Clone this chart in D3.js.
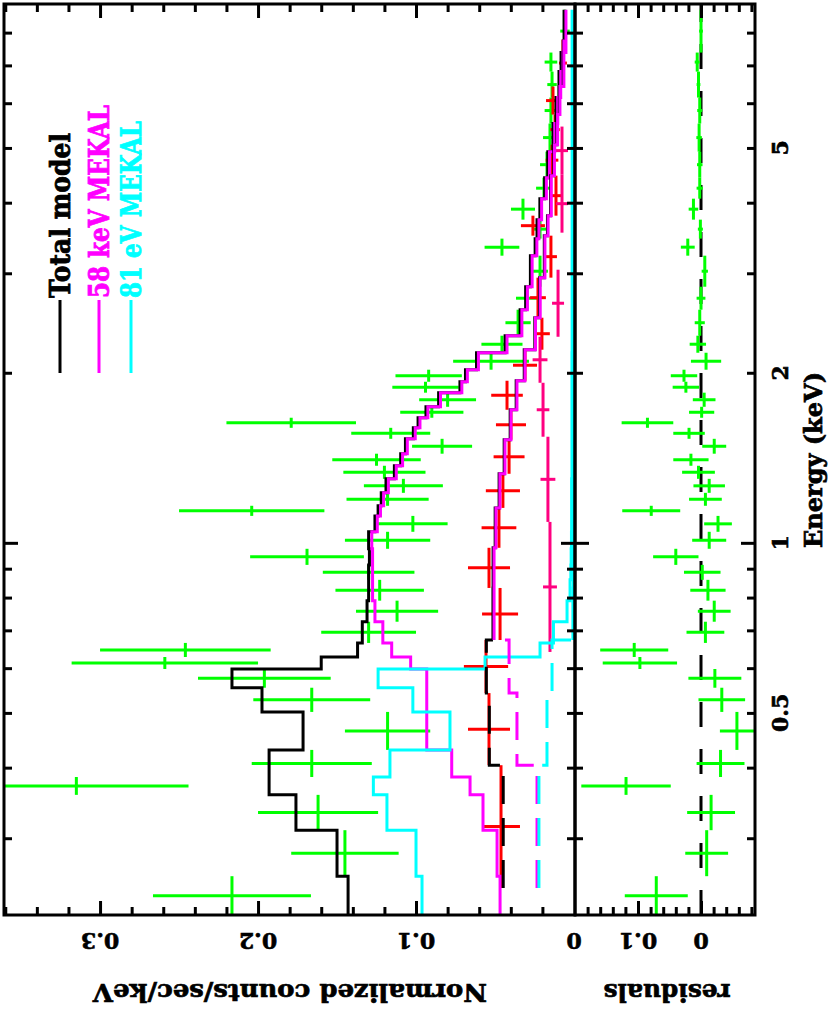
<!DOCTYPE html>
<html>
<head>
<meta charset="utf-8">
<script src="https://cdnjs.cloudflare.com/ajax/libs/d3/7.8.5/d3.min.js"></script>
<style>
  body { margin: 0; background: #fff; }
  text { font-family: "DejaVu Serif", serif; font-weight: bold; fill: #000; }
</style>
</head>
<body>
<svg id="chart"></svg>
<script>
// energy bin edges (keV) and values
var greenEdges = [0.219, 0.257, 0.310, 0.358, 0.385, 0.430, 0.502, 0.554, 0.598, 0.628, 0.665,
  0.725, 0.790, 0.860, 0.914, 0.976, 1.046, 1.116, 1.163, 1.226, 1.298, 1.369, 1.438, 1.528,
  1.598, 1.665, 1.741, 1.844, 1.928, 2.025, 2.170, 2.326, 2.586, 2.840, 3.223, 3.455, 3.733,
  4.066, 4.429, 4.925, 5.523, 6.140, 6.825, 7.376, 8.786];
var greenRate = [0.2165, 0.145, 0.162, 0.315, 0.166, 0.118, 0.166, 0.196, 0.259, 0.246, 0.130,
  0.112, 0.123, 0.130, 0.169, 0.118, 0.102, 0.204, 0.118, 0.108, 0.120, 0.125, 0.0835, 0.116,
  0.179, 0.090, 0.080, 0.094, 0.092, 0.0525, 0.0456, 0.0354, 0.0297, 0.0215, 0.0456, 0.0215,
  0.0323, 0.019, 0.0171, 0.0152, 0.0146, 0.0139, 0.0146, 0.0057];
var greenErr = [0.050, 0.034, 0.038, 0.071, 0.038, 0.027, 0.037, 0.042, 0.059, 0.054, 0.030,
  0.026, 0.028, 0.029, 0.036, 0.027, 0.022, 0.046, 0.026, 0.025, 0.026, 0.028, 0.019, 0.025,
  0.041, 0.020, 0.018, 0.021, 0.021, 0.024, 0.013, 0.008, 0.007, 0.005, 0.011, 0.004,
  0.0076, 0.005, 0.0044, 0.0044, 0.004, 0.003, 0.004, 0.003];
var greenResid = [0.071, -0.009, -0.016, 0.119, -0.031, -0.057, -0.033, -0.022, 0.097, 0.106, -0.007,
  -0.021, -0.011, -0.002, 0.040, -0.013, -0.027, 0.079, -0.007, -0.013, 0.004, 0.016, -0.021, 0.019,
  0.085, -0.001, -0.005, 0.024, 0.027, -0.008, 0.005, 0.002, 0.000, -0.006, 0.021, 0.001,
  0.012, 0.002, 0.002, 0.003, 0.002, 0.004, 0.006, 0.000];
var greenTotal = [0.143, 0.150, 0.176, 0.193, 0.193, 0.1715, 0.1975, 0.2165, 0.160, 0.137, 0.134,
  0.131, 0.130, 0.130, 0.1295, 0.130, 0.126, 0.124, 0.122, 0.119, 0.1137, 0.1097, 0.1067, 0.1017,
  0.0987, 0.0937, 0.0857, 0.0722, 0.0687, 0.0617, 0.0436, 0.0341, 0.0306, 0.0276, 0.0246, 0.0234,
  0.0216, 0.0186, 0.0166, 0.0133, 0.0114, 0.0095, 0.0082, 0.0063];
var green58keV = [0.0468, 0.0487, 0.0576, 0.0658, 0.0774, 0.0932, 0.0932, 0.0932, 0.1034, 0.1154, 0.121,
  0.126, 0.1275, 0.1275, 0.1275, 0.128, 0.1245, 0.1225, 0.1205, 0.1175, 0.1125, 0.1085, 0.1055, 0.1005,
  0.0975, 0.0925, 0.0845, 0.071, 0.0675, 0.0605, 0.0424, 0.033, 0.0295, 0.0265, 0.0235, 0.0222,
  0.0205, 0.0175, 0.0155, 0.0122, 0.0103, 0.0084, 0.007, 0.0051];
var green81eV = [0.0962, 0.100, 0.1184, 0.127, 0.1165, 0.0785, 0.102, 0.124, 0.0563, 0.0215, 0.013,
  0.0044, 0.0025, 0.002, 0.0018, 0.0016, 0.0015, 0.0015, 0.0015, 0.0015, 0.0013, 0.0013, 0.0013, 0.0013,
  0.0013, 0.0013, 0.0013, 0.0013, 0.0013, 0.0013, 0.0012, 0.0012, 0.0012, 0.0012, 0.0012, 0.0012,
  0.0012, 0.0012, 0.0012, 0.0012, 0.0012, 0.0012, 0.0012, 0.0012];

var redEdges = [0.245, 0.404, 0.542, 0.673, 0.832, 0.980, 1.153, 1.325, 1.522, 1.720, 1.936,
  2.197, 2.503, 2.947, 3.497, 3.794, 4.466, 5.067, 5.728, 6.421, 7.776];
var redRate = [0.0462, 0.0538, 0.0557, 0.0468, 0.0538, 0.0475, 0.045, 0.0411, 0.0399, 0.0424,
  0.031, 0.0203, 0.0228, 0.0146, 0.026, 0.0114, 0.0139, 0.012, 0.0133, 0.007];
var redErr = [0.012, 0.0133, 0.014, 0.0114, 0.0133, 0.011, 0.0108, 0.0098, 0.0095, 0.010,
  0.0076, 0.005, 0.005, 0.0038, 0.0076, 0.0038, 0.004, 0.003, 0.0044, 0.0025];
var redTotal = [0.0448, 0.0536, 0.0555, 0.0513, 0.0512, 0.0499, 0.0474, 0.0442, 0.0404, 0.0366,
  0.0315, 0.0248, 0.0218, 0.0188, 0.0168, 0.0148, 0.0128, 0.0108, 0.0093, 0.0068];
var red58keV = [0.0234, 0.0361, 0.0411, 0.0506, 0.0506, 0.0494, 0.0469, 0.0437, 0.0399, 0.0361,
  0.031, 0.0244, 0.0214, 0.0184, 0.0164, 0.0144, 0.0124, 0.0104, 0.0089, 0.0064];
var red81eV = [0.0222, 0.0171, 0.0139, 0.0007, 0.0005, 0.0005, 0.0005, 0.0005, 0.0005, 0.0005,
  0.0005, 0.0005, 0.0005, 0.0005, 0.0005, 0.0005, 0.0005, 0.0005, 0.0005, 0.0005];

var pinkLo = [0.641, 1.089, 1.541, 1.920, 2.316, 3.540, 4.484];
var pinkHi = [1.089, 1.541, 1.920, 2.316, 3.044, 4.484, 5.455];
var pinkRate = [0.0152, 0.0165, 0.0196, 0.0215, 0.0101, 0.0076, 0.0076];
var pinkErr = [0.0044, 0.0047, 0.004, 0.0047, 0.0038, 0.0038, 0.0038];

var energyLabels = [0.5, 1, 2, 5];
var energyMinor = [0.3, 0.4, 0.5, 0.6, 0.7, 0.8, 0.9, 2, 3, 4, 5, 6, 7, 8];
var energyMajor = [1];
var countLabels = [0, 0.1, 0.2, 0.3];
var residLabels = [0, 0.1];
var legendNames = ["Total model", "58 keV MEKAL", "81 eV MEKAL"];
var legendColors = ["#000000", "#ff00ff", "#00ffff"];

var width = 830,
    height = 1009;

var svg = d3.select("#chart")
    .attr("width", width)
    .attr("height", height);

svg.append("rect").attr("width", width).attr("height", height).attr("fill", "#fff");

// plot is drawn turned on its side: energy runs upward, counts run leftward
var yE = d3.scaleLog().domain([0.2194, 8.99]).range([915, 4]);
var xC = d3.scaleLinear().domain([0, 0.3608]).range([574, 4]);
var xR = d3.scaleLinear().domain([0.2, -0.0857]).range([575, 755]);

var defs = svg.append("defs");
defs.append("clipPath").attr("id", "clipMain")
    .append("rect").attr("x", 4).attr("y", 4).attr("width", 571).attr("height", 911);
defs.append("clipPath").attr("id", "clipRes")
    .append("rect").attr("x", 575).attr("y", 4).attr("width", 180).attr("height", 911);

var main = svg.append("g").attr("clip-path", "url(#clipMain)");
var res = svg.append("g").attr("clip-path", "url(#clipRes)");

function crosses(g, lo, hi, val, err, x, color) {
    var idx = d3.range(val.length);
    g.selectAll(null).data(idx).join("line")
        .attr("x1", function(i) { return x(val[i]); })
        .attr("x2", function(i) { return x(val[i]); })
        .attr("y1", function(i) { return yE(lo[i]); })
        .attr("y2", function(i) { return yE(hi[i]); })
        .attr("stroke", color).attr("stroke-width", 3);
    g.selectAll(null).data(idx).join("line")
        .attr("x1", function(i) { return x(val[i] - err[i]); })
        .attr("x2", function(i) { return x(val[i] + err[i]); })
        .attr("y1", function(i) { return yE(Math.sqrt(lo[i] * hi[i])); })
        .attr("y2", function(i) { return yE(Math.sqrt(lo[i] * hi[i])); })
        .attr("stroke", color).attr("stroke-width", 3);
}

function stepPoints(edges, vals, from, to) {
    var pts = [];
    for (var i = from; i < to; i++) pts.push([vals[i], edges[i]]);
    if (to === vals.length) pts.push([vals[to - 1], edges[to]]);
    else pts.push([vals[to], edges[to]]);
    return pts;
}

var step = d3.line()
    .x(function(d) { return xC(d[0]); })
    .y(function(d) { return yE(d[1]); })
    .curve(d3.curveStepBefore);

function stepLine(g, edges, vals, color, from, to, dash) {
    g.append("path")
        .attr("d", step(stepPoints(edges, vals, from, to)))
        .attr("fill", "none")
        .attr("stroke", color)
        .attr("stroke-width", 3)
        .attr("stroke-dasharray", dash || null);
}

var greenLo = greenEdges.slice(0, -1), greenHi = greenEdges.slice(1);
var redLo = redEdges.slice(0, -1), redHi = redEdges.slice(1);

// data
crosses(main, greenLo, greenHi, greenRate, greenErr, xC, "#00ff00");
crosses(main, redLo, redHi, redRate, redErr, xC, "#ff0000");
crosses(main, pinkLo, pinkHi, pinkRate, pinkErr, xC, "#ff0080");

// models for the green spectrum
stepLine(main, greenEdges, greenTotal, "#000000", 0, greenTotal.length);
stepLine(main, greenEdges, green58keV, "#ff00ff", 0, green58keV.length);
stepLine(main, greenEdges, green81eV, "#00ffff", 0, green81eV.length);

// models for the red spectrum (dashed below 0.67 keV)
stepLine(main, redEdges, redTotal, "#000000", 0, 3, "28,14");
stepLine(main, redEdges, redTotal, "#000000", 3, redTotal.length);
stepLine(main, redEdges, red58keV, "#ff00ff", 0, 3, "28,14");
stepLine(main, redEdges, red58keV, "#ff00ff", 3, red58keV.length);
stepLine(main, redEdges, red81eV, "#00ffff", 0, 3, "28,14");
stepLine(main, redEdges, red81eV, "#00ffff", 3, red81eV.length);

// residual panel
res.append("line")
    .attr("x1", xR(0)).attr("x2", xR(0))
    .attr("y1", yE.range()[0]).attr("y2", yE.range()[1])
    .attr("stroke", "#000").attr("stroke-width", 3)
    .attr("stroke-dasharray", "25,22");
crosses(res, greenLo, greenHi, greenResid, greenErr, xR, "#00ff00");

// ticks
function ticks(axis, tx, ty, size, values) {
    var g = svg.append("g")
        .attr("transform", "translate(" + tx + "," + ty + ")")
        .call(axis.tickValues(values).tickSize(size).tickSizeOuter(0).tickFormat(""));
    g.select(".domain").remove();
    g.selectAll("line").attr("stroke-width", 3);
}

ticks(d3.axisLeft(yE), 4, 0, -8, energyMinor);
ticks(d3.axisLeft(yE), 4, 0, -14, energyMajor);
ticks(d3.axisRight(yE), 575, 0, -8, energyMinor);
ticks(d3.axisRight(yE), 575, 0, -14, energyMajor);
ticks(d3.axisLeft(yE), 575, 0, -8, energyMinor);
ticks(d3.axisLeft(yE), 575, 0, -14, energyMajor);
ticks(d3.axisRight(yE), 755, 0, -8, energyMinor);
ticks(d3.axisRight(yE), 755, 0, -14, energyMajor);

var countMinor = d3.range(1, 19).map(function(i) { return i * 0.02; })
    .filter(function(v) { return Math.abs(v * 10 - Math.round(v * 10)) > 1e-6; });
var countMajor = [0.1, 0.2, 0.3];
ticks(d3.axisBottom(xC), 0, 915, -8, countMinor);
ticks(d3.axisBottom(xC), 0, 915, -14, countMajor);
ticks(d3.axisTop(xC), 0, 4, -8, countMinor);
ticks(d3.axisTop(xC), 0, 4, -14, countMajor);

var residMinor = d3.range(-4, 10).map(function(i) { return i * 0.02; })
    .filter(function(v) { return Math.abs(v * 10 - Math.round(v * 10)) > 1e-6; });
ticks(d3.axisBottom(xR), 0, 915, -8, residMinor);
ticks(d3.axisBottom(xR), 0, 915, -14, residLabels);
ticks(d3.axisTop(xR), 0, 4, -8, residMinor);
ticks(d3.axisTop(xR), 0, 4, -14, residLabels);

// frames
svg.append("rect").attr("x", 4).attr("y", 4).attr("width", 571).attr("height", 911)
    .attr("fill", "none").attr("stroke", "#000").attr("stroke-width", 3);
svg.append("rect").attr("x", 575).attr("y", 4).attr("width", 180).attr("height", 911)
    .attr("fill", "none").attr("stroke", "#000").attr("stroke-width", 3);

// tick labels
svg.selectAll(null).data(energyLabels).join("text")
    .attr("x", 788).attr("y", function(d) { return yE(d); })
    .attr("transform", function(d) { return "rotate(-90,788," + yE(d) + ")"; })
    .attr("text-anchor", "middle").attr("font-size", 22)
    .attr("stroke", "#000").attr("stroke-width", 0.6)
    .text(function(d) { return String(d); });

svg.selectAll(null).data(countLabels).join("text")
    .attr("x", function(d) { return xC(d); }).attr("y", 933)
    .attr("transform", function(d) { return "rotate(180," + xC(d) + ",933)"; })
    .attr("text-anchor", "middle").attr("font-size", 22)
    .attr("stroke", "#000").attr("stroke-width", 0.6)
    .text(function(d) { return String(d); });

svg.selectAll(null).data(residLabels).join("text")
    .attr("x", function(d) { return xR(d); }).attr("y", 933)
    .attr("transform", function(d) { return "rotate(180," + xR(d) + ",933)"; })
    .attr("text-anchor", "middle").attr("font-size", 22)
    .attr("stroke", "#000").attr("stroke-width", 0.6)
    .text(function(d) { return String(d); });

// axis titles
svg.append("text")
    .attr("x", 822).attr("y", 460)
    .attr("transform", "rotate(-90,822,460)")
    .attr("text-anchor", "middle").attr("font-size", 25)
    .attr("stroke", "#000").attr("stroke-width", 0.7)
    .attr("textLength", 176).attr("lengthAdjust", "spacingAndGlyphs")
    .text("Energy (keV)");

svg.append("text")
    .attr("x", 290).attr("y", 984)
    .attr("transform", "rotate(180,290,984)")
    .attr("text-anchor", "middle").attr("font-size", 25)
    .attr("stroke", "#000").attr("stroke-width", 0.7)
    .attr("textLength", 394).attr("lengthAdjust", "spacingAndGlyphs")
    .text("Normalized counts/sec/keV");

svg.append("text")
    .attr("x", 667).attr("y", 984)
    .attr("transform", "rotate(180,667,984)")
    .attr("text-anchor", "middle").attr("font-size", 25)
    .attr("stroke", "#000").attr("stroke-width", 0.7)
    .attr("textLength", 127).attr("lengthAdjust", "spacingAndGlyphs")
    .text("residuals");

// legend
var legendX = [60, 99, 131];
var legendLen = [165, 193, 177];
legendNames.forEach(function(name, i) {
    svg.append("line")
        .attr("x1", legendX[i]).attr("x2", legendX[i])
        .attr("y1", 300).attr("y2", 373)
        .attr("stroke", legendColors[i]).attr("stroke-width", 3);
    svg.append("text")
        .attr("x", legendX[i] + 10).attr("y", 298)
        .attr("transform", "rotate(-90," + (legendX[i] + 10) + ",298)")
        .attr("font-size", 27)
        .attr("textLength", legendLen[i]).attr("lengthAdjust", "spacingAndGlyphs")
        .style("fill", legendColors[i])
        .attr("stroke", legendColors[i]).attr("stroke-width", 0.8)
        .text(name);
});
</script>
</body>
</html>
